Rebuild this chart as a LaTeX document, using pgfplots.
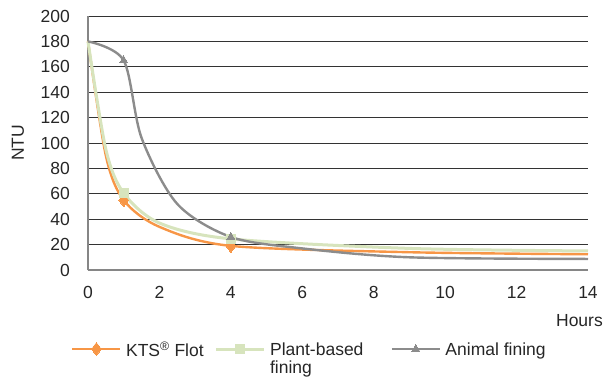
\documentclass[border=0pt]{standalone}
\usepackage{fontspec}
\setmainfont{Liberation Sans}
\usepackage{pgfplots}
\pgfplotsset{compat=1.18}
\definecolor{kts}{RGB}{247,150,70}
\definecolor{plant}{RGB}{215,228,189}
\definecolor{animal}{RGB}{140,140,140}
\definecolor{axisgray}{RGB}{134,134,134}
\newcommand{\chartfont}{\fontsize{17.5}{18}\selectfont}
\begin{document}
\begin{tikzpicture}
\useasboundingbox (-88pt,-106pt) rectangle (518pt,270pt);
\begin{axis}[
  at={(0pt,0pt)}, anchor=south west,
  scale only axis, width=500pt, height=254pt,
  xmin=0, xmax=14, ymin=0, ymax=200,
  xtick={0,2,...,14}, ytick={0,20,...,200},
  axis x line*=bottom, axis y line*=left,
  axis line style={axisgray, line width=1.2pt, -},
  ymajorgrids, grid style={black!80, line width=0.7pt},
  tick style={draw=none},
  /pgf/number format/assume math mode=true,
  ticklabel style={font=\chartfont, text=black!85, inner sep=0pt},
  yticklabel style={anchor=east, xshift=-18pt},
  xticklabel style={anchor=north, yshift=-16pt},
  xlabel={Hours}, ylabel={NTU},
  label style={font=\chartfont, text=black!85, inner sep=0pt},
  xlabel style={at={(rel axis cs:1,0)}, anchor=east, xshift=15pt, yshift=-51pt},
  ylabel style={at={(axis description cs:-0.14,0.5)}, anchor=center},
  legend columns=3,
  legend style={draw=none, fill=none, at={(0,0)}, anchor=west, xshift=-17pt, yshift=-79pt,
    font=\chartfont, text=black!85, inner sep=0pt, column sep=0pt,
    nodes={inner xsep=4.5pt, inner ysep=0pt, text depth=0pt, anchor=west}},
  legend image code/.code={\draw[mark repeat=2, mark phase=2] plot coordinates {(0pt,0pt) (24pt,0pt) (48pt,0pt)};},
  clip=false,
]
% KTS Flot
\addplot[kts, line width=2.4pt, smooth, mark=diamond*, mark size=6.5pt, mark indices={3,5}, mark options={line width=0pt}, forget plot]
  coordinates {(0,180) (0.5,90) (1,55) (2,34) (4,19) (9,14) (14,12.4)};
% Plant-based fining
\addplot[plant, line width=3pt, smooth, mark=square*, mark size=4.5pt, mark indices={3,5}, mark options={line width=0pt}, forget plot]
  coordinates {(0,180) (0.5,95) (1,60.5) (2,37) (4,24.5) (9,17) (14,15)};
% Animal fining
\addplot[animal, line width=2.4pt, smooth, mark=triangle*, mark size=4.5pt, mark indices={2,5}, mark options={line width=0pt}, forget plot]
  coordinates {(0,180) (1,165) (1.5,104) (2.5,52) (4,26) (6,17) (9,10) (14,8.7)};
\addlegendimage{kts, line width=2.4pt, mark=diamond*, mark size=6.5pt, mark options={line width=0pt}}
\addlegendentry{\makebox[84pt][l]{KTS\textsuperscript{®} Flot}}
\addlegendimage{plant, line width=3pt, mark=square*, mark size=4.5pt, mark options={line width=0pt}}
\addlegendentry{\parbox[t]{116pt}{Plant-based\\fining}}
\addlegendimage{animal, line width=2.4pt, mark=triangle*, mark size=4.5pt, mark options={line width=0pt}}
\addlegendentry{Animal fining}
\end{axis}
\end{tikzpicture}
\end{document}
